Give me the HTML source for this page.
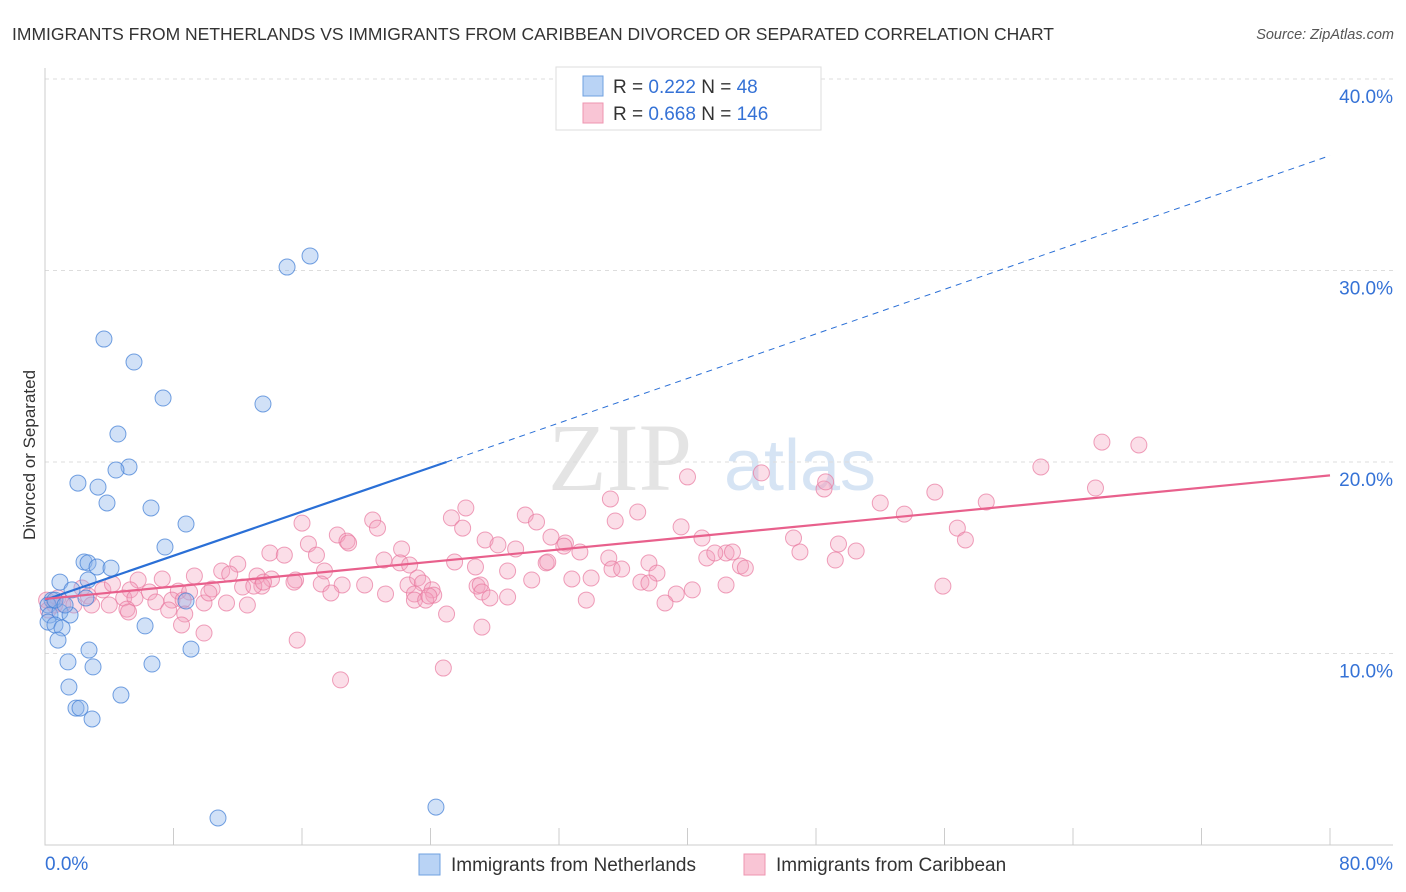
<!DOCTYPE html>
<html><head><meta charset="utf-8"><style>
body{margin:0;background:#fff;font-family:"Liberation Sans",sans-serif}
svg{display:block}
</style></head><body>
<svg width="1406" height="892" id="c">
<text x="12" y="40" font-size="17.5" fill="#333">IMMIGRANTS FROM NETHERLANDS VS IMMIGRANTS FROM CARIBBEAN DIVORCED OR SEPARATED CORRELATION CHART</text>
<text x="1394" y="39" font-size="14.5" fill="#555" text-anchor="end" font-style="italic">Source: ZipAtlas.com</text>
<text x="35" y="455" font-size="17" fill="#333" text-anchor="middle" transform="rotate(-90 35 455)">Divorced or Separated</text>
<text x="620" y="490" font-size="96" fill="#e4e4e4" font-family="Liberation Serif,serif" text-anchor="middle">ZIP</text>
<text x="800" y="490" font-size="72" fill="#d6e4f4" text-anchor="middle">atlas</text>
<g id="grid"></g><g id="pts"></g><g id="trend"></g>
<g>
<rect x="556" y="67" width="265" height="63" fill="#fff" stroke="#ddd"/>
<rect x="583" y="76" width="20" height="20" fill="#b9d3f5" stroke="#6fa0e0"/>
<rect x="583" y="103" width="20" height="20" fill="#f9c5d5" stroke="#ee95b0"/>
<text x="613" y="93" font-size="19" fill="#333">R = <tspan fill="#3572d6">0.222</tspan>   N =  <tspan fill="#3572d6">48</tspan></text>
<text x="613" y="120" font-size="19" fill="#333">R = <tspan fill="#3572d6">0.668</tspan>   N = <tspan fill="#3572d6">146</tspan></text>
</g>
<g>
<rect x="419" y="854" width="21" height="21" fill="#b9d3f5" stroke="#6fa0e0"/>
<text x="451" y="871" font-size="19" fill="#333">Immigrants from Netherlands</text>
<rect x="744" y="854" width="21" height="21" fill="#f9c5d5" stroke="#ee95b0"/>
<text x="776" y="871" font-size="19" fill="#333">Immigrants from Caribbean</text>
</g>
</svg>
<script>
const yTicks=[10,20,30,40];
const xTickLabels=["0.0%","80.0%"];
const blueX=[16.5,15.07,3.67,5.54,7.35,13.57,4.54,5.23,4.42,2.05,3.30,3.86,6.60,8.78,7.47,2.43,2.68,3.24,4.11,0.93,1.68,2.68,2.55,8.78,6.23,0.44,0.19,0.31,0.93,1.56,0.19,0.62,1.06,0.81,2.74,9.09,1.43,2.99,6.66,1.49,4.73,1.93,2.18,2.93,24.34,10.77,0.62,1.25];
const blueY=[30.76,30.18,26.42,25.22,23.34,23.03,21.46,19.74,19.58,18.90,18.69,17.86,17.60,16.76,15.56,14.78,14.73,14.52,14.46,13.73,13.32,13.84,12.90,12.74,11.44,12.79,12.53,12.01,12.17,12.01,11.64,11.49,11.33,10.70,10.18,10.23,9.56,9.30,9.45,8.25,7.83,7.15,7.15,6.58,1.98,1.41,12.79,12.53];
const pinkX=[65.8,68.1,62.0,40.0,44.6,65.4,48.5,48.6,55.4,35.2,52.0,58.6,26.2,29.9,36.9,53.5,16.0,20.4,25.3,30.6,26.0,35.5,39.6,56.8,18.2,20.7,18.8,27.4,28.2,31.5,32.4,40.9,46.6,57.3,16.4,18.9,29.3,32.3,33.3,42.4,47.0,49.4,50.5,14.0,16.9,21.1,22.2,25.5,31.2,31.3,35.1,37.6,41.2,41.7,42.8,43.3,49.2,12.0,14.9,17.4,22.1,22.7,26.8,28.8,35.3,35.9,38.1,43.6,5.8,7.3,9.3,11.0,11.5,13.2,14.1,15.6,13.5,15.5,17.2,18.5,19.9,22.6,23.2,23.5,26.9,27.1,30.3,32.8,34.0,37.1,37.6,55.9,2.3,3.6,4.2,5.3,6.5,8.3,9.0,10.4,12.3,13.0,13.6,17.8,21.2,23.0,24.1,24.2,27.2,27.7,28.8,39.3,40.3,42.4,0.8,2.7,4.9,5.6,6.9,7.9,8.6,9.9,10.2,12.6,23.0,23.7,23.9,33.7,38.6,1.1,2.9,4.0,5.1,7.7,8.7,11.3,5.2,25.0,8.5,9.9,27.2,15.7,24.8,18.4,1.8,0.1,0.2,0.6];
const pinkY=[21.04,20.89,19.74,19.22,19.43,18.64,18.59,18.96,18.43,18.07,17.86,17.91,17.60,17.23,17.39,17.28,16.81,16.97,17.08,16.87,16.55,16.92,16.61,16.55,16.19,16.55,15.87,15.93,15.67,16.08,15.77,16.03,16.03,15.93,15.72,15.77,15.46,15.61,15.30,15.25,15.30,15.72,15.35,15.25,15.14,14.88,15.46,14.78,14.73,14.78,14.99,14.73,14.99,15.25,15.30,14.57,14.88,14.67,15.14,14.31,14.73,14.62,14.52,14.31,14.41,14.41,14.20,14.46,13.84,13.89,14.05,14.31,14.15,14.05,13.89,13.84,13.52,13.73,13.63,13.58,13.58,13.58,13.94,13.68,13.52,13.58,13.84,13.89,13.94,13.73,13.68,13.52,13.42,13.32,13.63,13.32,13.21,13.26,13.21,13.37,13.47,13.52,13.73,13.16,13.11,13.11,13.32,13.05,13.21,12.90,12.95,13.11,13.32,13.58,12.90,13.00,12.90,12.90,12.69,12.79,12.79,12.64,13.16,12.53,12.79,12.79,13.00,12.79,12.64,12.58,12.53,12.53,12.32,12.27,12.06,12.64,12.17,12.06,11.49,11.07,11.38,10.70,9.24,8.62,12.53,12.79,12.27,12.53];
const blueTrend=[[0,12.8],[25,20.0],[80,36.0]];
const pinkTrend=[[0,12.85],[80,19.3]];
const NS="http://www.w3.org/2000/svg";
const X=v=>45+v/80*1285, Y=v=>845-v*19.15;
function mk(t,a,p){const e=document.createElementNS(NS,t);for(const k in a)e.setAttribute(k,a[k]);p.appendChild(e);return e;}
const g=document.getElementById('grid');
yTicks.forEach(t=>{
 const l=mk('line',{x1:45,x2:1393,y1:Y(t),y2:Y(t),stroke:'#ddd','stroke-dasharray':'4,4'},g);
 
 
 const tx=mk('text',{x:1393,y:Y(t)+24,'font-size':19,fill:'#3572d6','text-anchor':'end'},g);
 tx.textContent=t.toFixed(1)+'%';
 
 
});
const ax=mk('path',{d:'M45,68V845H1393',stroke:'#ccc',fill:'none'},g);


for(let i=0;i<=10;i++){const tk=mk('line',{x1:X(i*8),x2:X(i*8),y1:828,y2:845,stroke:'#ccc'},g);
 
 }
xTickLabels.forEach((s,i)=>{const tx=mk('text',{x:i?1393:45,y:870,'font-size':19,fill:'#3572d6','text-anchor':i?'end':'start'},g);
 tx.textContent=s;
 
 });
const pg=document.getElementById('pts');
pinkX.forEach((x,i)=>{const c=mk('circle',{cx:X(x),cy:Y(pinkY[i]),r:8,fill:'rgba(244,160,188,0.35)',stroke:'rgba(232,120,158,0.7)','stroke-width':1},pg);
 
 });
blueX.forEach((x,i)=>{const c=mk('circle',{cx:X(x),cy:Y(blueY[i]),r:8,fill:'rgba(140,180,235,0.4)',stroke:'rgba(70,130,215,0.75)','stroke-width':1},pg);
 
 });
const tg=document.getElementById('trend');
let b=blueTrend;
const bl=mk('line',{x1:X(b[0][0]),y1:Y(b[0][1]),x2:X(b[1][0]),y2:Y(b[1][1]),stroke:'#2a6fd6','stroke-width':2.2},tg);


const bd=mk('line',{x1:X(b[1][0]),y1:Y(b[1][1]),x2:X(b[2][0]),y2:Y(b[2][1]),stroke:'#2a6fd6','stroke-width':1,'stroke-dasharray':'6,5'},tg);


const pl=mk('line',{x1:X(pinkTrend[0][0]),y1:Y(pinkTrend[0][1]),x2:X(pinkTrend[1][0]),y2:Y(pinkTrend[1][1]),stroke:'#e8608c','stroke-width':2.2},tg);


</script>
</body></html>
